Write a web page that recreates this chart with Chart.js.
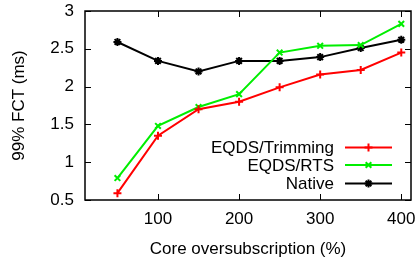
<!DOCTYPE html>
<html>
<head>
<meta charset="utf-8">
<script src="https://cdn.jsdelivr.net/npm/chart.js@4"></script>
<style>
  html, body { margin: 0; padding: 0; background: #fff; }
  #wrap { width: 417px; height: 260px; }
</style>
</head>
<body>
<div id="wrap"><canvas id="myChart" width="417" height="260"></canvas></div>
<script>
  const oversub = [50, 100, 150, 200, 250, 300, 350, 400];
  const trimming = [0.59, 1.35, 1.70, 1.80, 1.99, 2.16, 2.22, 2.45];
  const rts = [0.79, 1.48, 1.73, 1.90, 2.45, 2.54, 2.55, 2.83];
  const native = [2.59, 2.34, 2.20, 2.34, 2.34, 2.39, 2.51, 2.62];
  const xTicks = [100, 200, 300, 400];
  const yTicks = [0.5, 1, 1.5, 2, 2.5, 3];

  const FONT = "'Liberation Sans', Arial, sans-serif";
  const FS = 17;

  const toPoints = function (ys) {
    return ys.map(function (y, i) { return { x: oversub[i], y: y }; });
  };

  // gnuplot-style frame, inward ticks and legend with sample on the right
  const framePlugin = {
    id: "frame",
    afterDraw: function (chart) {
      const ctx = chart.ctx;
      const a = chart.chartArea;
      const xs = chart.scales.x;
      const ys = chart.scales.y;
      const tl = 6;
      ctx.save();
      ctx.strokeStyle = "#000";
      ctx.lineWidth = 1;
      ctx.beginPath();
      xTicks.forEach(function (v) {
        const px = Math.round(xs.getPixelForValue(v)) + 0.5;
        ctx.moveTo(px, a.bottom); ctx.lineTo(px, a.bottom - tl);
        ctx.moveTo(px, a.top); ctx.lineTo(px, a.top + tl);
      });
      yTicks.forEach(function (v) {
        const py = Math.round(ys.getPixelForValue(v)) + 0.5;
        ctx.moveTo(a.left, py); ctx.lineTo(a.left + tl, py);
        ctx.moveTo(a.right, py); ctx.lineTo(a.right - tl, py);
      });
      ctx.stroke();
      ctx.lineWidth = 1.5;
      ctx.strokeRect(a.left, a.top, a.right - a.left, a.bottom - a.top);

      // legend
      const textRight = a.right - 77;
      const lineL = a.right - 66;
      const lineR = a.right - 19;
      const rowY = [a.top + 136.5, a.top + 154, a.top + 172.5];
      ctx.font = FS + "px " + FONT;
      ctx.textAlign = "right";
      ctx.textBaseline = "middle";
      chart.data.datasets.forEach(function (ds, i) {
        const y = rowY[i];
        ctx.fillStyle = "#000";
        ctx.fillText(ds.label, textRight, y + 1);
        ctx.strokeStyle = ds.borderColor;
        ctx.lineWidth = 2;
        ctx.beginPath();
        ctx.moveTo(lineL, y); ctx.lineTo(lineR, y);
        ctx.stroke();
        Chart.helpers.drawPoint(ctx, {
          pointStyle: ds.pointStyle,
          radius: ds.pointRadius,
          borderWidth: 2
        }, (lineL + lineR) / 2, y);
      });
      ctx.restore();
    }
  };

  const ctx = document.getElementById("myChart").getContext("2d");
  const chart = new Chart(ctx, {
    type: "line",
    data: {
      datasets: [
        {
          label: "EQDS/Trimming",
          data: toPoints(trimming),
          borderColor: "#ff0000",
          backgroundColor: "#ff0000",
          pointStyle: "cross",
          pointRadius: 4,
          pointBorderWidth: 2,
          borderWidth: 2,
          tension: 0
        },
        {
          label: "EQDS/RTS",
          data: toPoints(rts),
          borderColor: "#00ee00",
          backgroundColor: "#00ee00",
          pointStyle: "crossRot",
          pointRadius: 4,
          pointBorderWidth: 2,
          borderWidth: 2,
          tension: 0
        },
        {
          label: "Native",
          data: toPoints(native),
          borderColor: "#000000",
          backgroundColor: "#000000",
          pointStyle: "star",
          pointRadius: 4,
          pointBorderWidth: 2,
          borderWidth: 2,
          tension: 0
        }
      ]
    },
    options: {
      responsive: false,
      animation: false,
      layout: { padding: { top: 11, right: 4, left: 9, bottom: 0 } },
      plugins: {
        legend: { display: false },
        tooltip: { enabled: false }
      },
      scales: {
        x: {
          type: "linear",
          min: 10,
          max: 412,
          afterBuildTicks: function (scale) {
            scale.ticks = xTicks.map(function (v) { return { value: v }; });
          },
          grid: { display: false, drawTicks: false },
          border: { display: false },
          ticks: {
            color: "#000",
            font: { family: FONT, size: FS },
            padding: 9,
            maxRotation: 0,
            callback: function (v) { return String(v); }
          },
          title: {
            display: true,
            text: "Core oversubscription (%)",
            color: "#000",
            font: { family: FONT, size: FS },
            padding: { top: 4, bottom: 0 }
          },
          afterFit: function (scale) {
            scale.height = 60;
            scale.paddingLeft = 0;
            scale.paddingRight = 0;
          }
        },
        y: {
          min: 0.5,
          max: 3,
          afterBuildTicks: function (scale) {
            scale.ticks = yTicks.map(function (v) { return { value: v }; });
          },
          grid: { display: false, drawTicks: false },
          border: { display: false },
          ticks: {
            color: "#000",
            font: { family: FONT, size: FS },
            padding: 11,
            callback: function (v) { return String(v); }
          },
          title: {
            display: true,
            text: "99% FCT (ms)",
            color: "#000",
            font: { family: FONT, size: FS },
            padding: { top: 0, bottom: 0 }
          },
          afterFit: function (scale) {
            scale.width = 76;
            scale.paddingTop = 0;
            scale.paddingBottom = 0;
          }
        }
      }
    },
    plugins: [framePlugin]
  });
</script>
</body>
</html>
